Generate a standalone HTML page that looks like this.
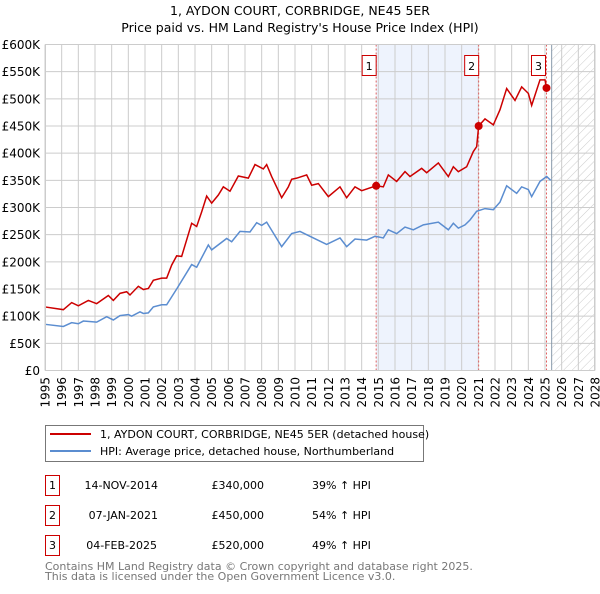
<!DOCTYPE html>
<html><head><meta charset="utf-8"><style>
body{margin:0;background:#fff;font-family:"DejaVu Sans","Liberation Sans",sans-serif;}
svg text{font-family:"DejaVu Sans","Liberation Sans",sans-serif;}
</style></head><body>
<svg id="c" width="600" height="590" viewBox="0 0 600 590">
<defs><pattern id="hatch" width="6" height="6" patternUnits="userSpaceOnUse" patternTransform="rotate(45)"><line x1="0" y1="0" x2="0" y2="6" stroke="#ccc" stroke-width="1"/></pattern></defs>
<text x="300" y="15" text-anchor="middle" font-size="12.5">1, AYDON COURT, CORBRIDGE, NE45 5ER</text>
<text x="300" y="32" text-anchor="middle" font-size="12.5">Price paid vs. HM Land Registry's House Price Index (HPI)</text>
<g id="plot"></g>
<g>
<rect x="45.5" y="425.5" width="378" height="36" fill="#fff" stroke="#777"/>
<line x1="50" y1="434" x2="91" y2="434" stroke="#cc0000" stroke-width="2"/>
<text x="100" y="438" font-size="11">1, AYDON COURT, CORBRIDGE, NE45 5ER (detached house)</text>
<line x1="50" y1="451" x2="91" y2="451" stroke="#5b8dd0" stroke-width="2"/>
<text x="100" y="455" font-size="11">HPI: Average price, detached house, Northumberland</text>
</g>
<g font-size="11">
<rect x="45.5" y="475.5" width="14" height="20" fill="#fff" stroke="#cc0000"/><text x="52.5" y="489" text-anchor="middle">1</text>
<text x="158" y="489" text-anchor="end">14-NOV-2014</text><text x="264" y="489" text-anchor="end">£340,000</text><text x="312" y="489">39% ↑ HPI</text>
<rect x="45.5" y="505.5" width="14" height="20" fill="#fff" stroke="#cc0000"/><text x="52.5" y="519" text-anchor="middle">2</text>
<text x="158" y="519" text-anchor="end">07-JAN-2021</text><text x="264" y="519" text-anchor="end">£450,000</text><text x="312" y="519">54% ↑ HPI</text>
<rect x="45.5" y="535.5" width="14" height="20" fill="#fff" stroke="#cc0000"/><text x="52.5" y="549" text-anchor="middle">3</text>
<text x="157" y="549" text-anchor="end">04-FEB-2025</text><text x="264" y="549" text-anchor="end">£520,000</text><text x="312" y="549">49% ↑ HPI</text>
</g>
<text x="45" y="570" font-size="11" fill="#777">Contains HM Land Registry data © Crown copyright and database right 2025.</text>
<text x="45" y="580" font-size="11" fill="#777">This data is licensed under the Open Government Licence v3.0.</text>
</svg>
<script>
const hpiYears=[1995.0,1996.1,1996.6,1997.0,1997.3,1998.1,1998.7,1999.1,1999.5,2000.0,2000.2,2000.7,2000.9,2001.2,2001.5,2002.0,2002.3,2002.9,2003.8,2004.1,2004.8,2005.0,2005.9,2006.2,2006.7,2007.3,2007.7,2008.0,2008.3,2009.2,2009.8,2010.3,2010.9,2011.9,2012.7,2013.1,2013.6,2014.3,2014.8,2015.3,2015.6,2016.1,2016.6,2017.1,2017.7,2018.6,2019.2,2019.5,2019.8,2020.2,2020.5,2020.9,2021.4,2021.9,2022.3,2022.7,2023.3,2023.6,2024.0,2024.2,2024.7,2025.1,2025.34];
const hpiValues=[85,81,88,86,91,89,99,93,101,103,100,108,105,106,117,121,121,150,195,190,231,222,243,237,256,255,272,267,273,228,252,256,247,232,244,228,242,240,247,244,259,252,264,259,268,273,259,271,262,268,277,293,298,296,310,340,326,338,333,320,348,357,350];
const priceYears=[1995.0,1996.1,1996.6,1997.0,1997.6,1998.1,1998.8,1999.1,1999.5,1999.9,2000.1,2000.6,2000.9,2001.2,2001.5,2002.0,2002.3,2002.6,2002.9,2003.2,2003.8,2004.1,2004.4,2004.7,2005.0,2005.4,2005.7,2006.1,2006.6,2007.2,2007.6,2008.1,2008.3,2008.6,2008.8,2009.2,2009.6,2009.8,2010.1,2010.7,2011.0,2011.4,2012.0,2012.7,2013.1,2013.6,2014.0,2014.87,2015.3,2015.6,2016.1,2016.6,2016.9,2017.6,2017.9,2018.6,2019.2,2019.5,2019.8,2020.3,2020.7,2020.9,2021.02,2021.4,2021.9,2022.3,2022.7,2023.2,2023.6,2024.0,2024.2,2024.7,2025.0,2025.1];
const priceValues=[117,112,125,119,129,123,138,129,142,145,139,155,149,151,166,170,170,194,211,210,271,265,292,321,308,323,338,330,358,354,379,371,379,357,344,318,338,352,354,360,341,344,320,338,318,338,331,340,338,360,348,366,357,372,364,382,357,375,366,375,403,412,450,463,452,480,519,497,522,510,488,535,535,520];
const saleYears=[2014.87,2021.02,2025.09];
const saleValues=[340,450,520];
const saleLabels=["1","2","3"];
const yTicks=[0,50,100,150,200,250,300,350,400,450,500,550,600];
const yTickLabels=["£0","£50K","£100K","£150K","£200K","£250K","£300K","£350K","£400K","£450K","£500K","£550K","£600K"];
const xTicks=[1995,1996,1997,1998,1999,2000,2001,2002,2003,2004,2005,2006,2007,2008,2009,2010,2011,2012,2013,2014,2015,2016,2017,2018,2019,2020,2021,2022,2023,2024,2025,2026,2027,2028];
const forecastStart=2025.4;

const L=45,R=595,T=44.5,B=370.5;
const xs=y=>L+(y-1995)/(2028-1995)*(R-L);
const ys=v=>B-v/600*(B-T);
const NS="http://www.w3.org/2000/svg";
const plot=document.getElementById('plot');
function mk(tag,attrs,parent){const e=document.createElementNS(NS,tag);for(const k in attrs)e.setAttribute(k,attrs[k]);(parent||plot).appendChild(e);return e;}
let sh=mk('rect',{x:xs(saleYears[0]),y:T,width:xs(saleYears[1])-xs(saleYears[0]),height:B-T,fill:'#eef3fd'});


let hz=mk('rect',{x:xs(forecastStart),y:T,width:R-xs(forecastStart),height:B-T,fill:'url(#hatch)'});


xTicks.forEach(t=>{
  mk('line',{x1:xs(t),x2:xs(t),y1:T,y2:B,stroke:'#ccc','stroke-width':1});
  const x=xs(t)+4.5, y=377;
  const tx=mk('text',{x:x,y:y,'text-anchor':'end','font-size':12,transform:'rotate(-90 '+x+' '+y+')'});
  tx.textContent=t;
  
  
});
yTicks.forEach((t,i)=>{
  mk('line',{x1:L,x2:R,y1:ys(t),y2:ys(t),stroke:'#ccc','stroke-width':1});
  const tx=mk('text',{x:40,y:ys(t)+4.5,'text-anchor':'end','font-size':12});
  tx.textContent=yTickLabels[i];
  
  
});
mk('line',{x1:xs(forecastStart),x2:xs(forecastStart),y1:T,y2:B,stroke:'#8899aa','stroke-width':1});
saleYears.forEach((s,i)=>{
  mk('line',{x1:xs(s),x2:xs(s),y1:T,y2:B,stroke:'#e06060','stroke-width':1,'stroke-dasharray':'2,2'});
});
let hp=mk('polyline',{points:hpiYears.map((y,i)=>xs(y)+','+ys(hpiValues[i])).join(' '),fill:'none',stroke:'#5b8dd0','stroke-width':1.5});


let pp=mk('polyline',{points:priceYears.map((y,i)=>xs(y)+','+ys(priceValues[i])).join(' '),fill:'none',stroke:'#cc0000','stroke-width':1.5});


saleYears.forEach((s,i)=>{
  const d=mk('circle',{cx:xs(s),cy:ys(saleValues[i]),r:4,fill:'#cc0000'});
  
  
  const bx=xs(s)-7-(i==2?1:0);
  mk('rect',{x:bx-7,y:55.5,width:14,height:20,fill:'#fff',stroke:'#cc0000'});
  const t=mk('text',{x:bx,y:70,'text-anchor':'middle','font-size':11});
  t.textContent=saleLabels[i];
  
  
});
mk('rect',{x:L+0.5,y:T,width:R-L-1,height:B-T,fill:'none',stroke:'#ccc'});
</script>
</body></html>
